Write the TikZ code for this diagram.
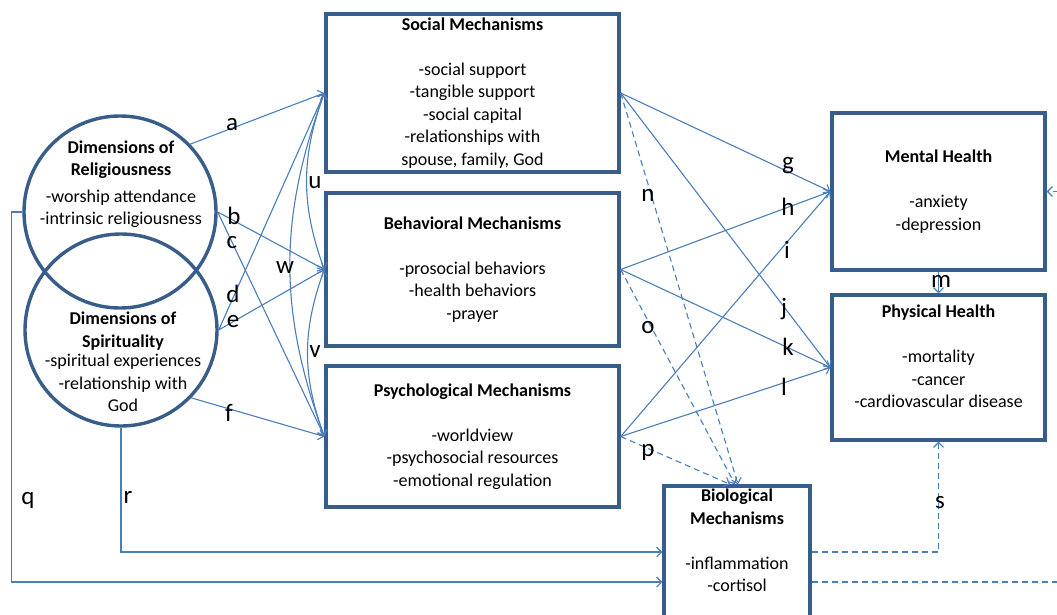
\documentclass[tikz,border=0pt]{standalone}
\usepackage{fontspec}
\setmainfont{Carlito}
\usetikzlibrary{arrows.meta,positioning}

\definecolor{linkblue}{HTML}{4A7EBB}
\definecolor{boxblue}{HTML}{385D8A}

\begin{document}
\begin{tikzpicture}[x=1pt, y=-1pt,
    font=\fontsize{18pt}{22.5pt}\selectfont,
    >={Straight Barb[length=5pt,width=10pt]},
    box/.style={draw=boxblue, line width=3.4pt, align=center, inner sep=0pt},
    ring/.style={draw=boxblue, line width=3.4pt, circle, inner sep=0pt, minimum size=192pt},
    conn/.style={linkblue, line width=1.1pt, ->},
    indirect/.style={conn, dash pattern=on 6pt off 4pt},
    pathlabel/.style={font=\fontsize{25pt}{30pt}\selectfont, inner sep=0pt}]
    \useasboundingbox (0,0) rectangle (1057,615);

    \node[ring] (rel) at (120,212) {};
    \node[ring] (spi) at (121,330) {};
    \node[align=center, inner sep=0pt] (reltext) at (121,184)
      {\textbf{Dimensions of}\\\textbf{Religiousness}\\[4pt]-worship attendance\\-intrinsic religiousness};
    \node[align=center, inner sep=0pt] (spitext) at (123,362)
      {\textbf{Dimensions of}\\\textbf{Spirituality}\\[-3pt]-spiritual experiences\\-relationship with\\God};

    \node[box, minimum width=293pt, minimum height=158pt] (soc) at (472.5,93)
      {\textbf{Social Mechanisms}\\[22.5pt]-social support\\-tangible support\\-social capital\\-relationships with\\spouse, family, God};
    \node[box, minimum width=293pt, minimum height=153pt] (beh) at (472.5,269.5)
      {\textbf{Behavioral Mechanisms}\\[22.5pt]-prosocial behaviors\\-health behaviors\\-prayer};
    \node[box, minimum width=293pt, minimum height=141pt] (psy) at (472.5,436.5)
      {\textbf{Psychological Mechanisms}\\[22.5pt]-worldview\\-psychosocial resources\\-emotional regulation};
    \node[box, minimum width=213pt, minimum height=157pt] (ment) at (938.5,191.5)
      {\textbf{Mental Health}\\[22.5pt]-anxiety\\-depression};
    \node[box, minimum width=213pt, minimum height=145pt] (phys) at (938.5,367.5)
      {\textbf{Physical Health}\\[22.5pt]-mortality\\-cancer\\-cardiovascular disease\\\mbox{}};
    \node[box, minimum width=146pt, minimum height=162pt] (bio) at (737,567) {};
    \node[align=center, inner sep=0pt, below=4.5pt of bio.north] (biotext)
      {\textbf{Biological}\\\textbf{Mechanisms}\\[22.5pt]-inflammation\\-cortisol};
    \coordinate (tturn) at (1080,400);

    \draw[conn] (rel.44) -- (soc.west);
    \draw[conn] (rel.east) -- (beh.west);
    \draw[conn] (rel.east) -- (psy.west);
    \draw[conn] (spi.east) -- (soc.west);
    \draw[conn] (spi.east) -- (beh.west);
    \draw[conn] (spi.-44) -- (psy.west);
    \draw[conn, <->] (soc.west) to[bend right=20] (beh.west);
    \draw[conn, <->] (beh.west) to[bend right=20] (psy.west);
    \draw[conn, <->] (soc.west) to[bend right=20] (psy.west);

    \draw[conn] (soc.east) -- (ment.west);
    \draw[conn] (beh.east) -- (ment.west);
    \draw[conn] (psy.east) -- (ment.west);
    \draw[conn] (soc.east) -- (phys.west);
    \draw[conn] (beh.east) -- (phys.west);
    \draw[conn] (psy.east) -- (phys.west);
    \draw[conn] (ment.south) -- (phys.north);
    \draw[indirect] (soc.east) -- ([xshift=1pt]bio.north);
    \draw[indirect] (beh.east) -- ([xshift=-2pt]bio.north);
    \draw[indirect] (psy.east) -- ([xshift=-7pt]bio.north);

    \draw[conn] (rel.west) -- ++(-11,0) |- ([yshift=-15pt]bio.west);
    \draw[conn] (spi.south) |- ([yshift=15pt]bio.west);
    \draw[indirect] ([yshift=15pt]bio.east) -| (phys.south);
    \draw[indirect] ([yshift=-15pt]bio.east) -| (tturn) |- (ment.east);

    \node[pathlabel] (la) at (232,125) {a};
    \node[pathlabel] (lb) at (234,216) {b};
    \node[pathlabel] (lc) at (232,243) {c};
    \node[pathlabel] (ld) at (233,294) {d};
    \node[pathlabel] (le) at (233,322) {e};
    \node[pathlabel] (lf) at (229,413) {f};
    \node[pathlabel] (lg) at (788,166) {g};
    \node[pathlabel] (lh) at (788,207) {h};
    \node[pathlabel] (li) at (787,250) {i};
    \node[pathlabel] (lj) at (784,309) {j};
    \node[pathlabel] (lk) at (788,347) {k};
    \node[pathlabel] (ll) at (784,387) {l};
    \node[pathlabel] (lm) at (941,281) {m};
    \node[pathlabel] (ln) at (648,195) {n};
    \node[pathlabel] (lo) at (648,328) {o};
    \node[pathlabel] (lp) at (648,452) {p};
    \node[pathlabel] (lq) at (28,500) {q};
    \node[pathlabel] (lr) at (128,497) {r};
    \node[pathlabel] (ls) at (940,503) {s};
    \node[pathlabel] (lt) at (1063,497) {t};
    \node[pathlabel] (lu) at (315,183) {u};
    \node[pathlabel] (lv) at (315,352) {v};
    \node[pathlabel] (lw) at (285,268) {w};
\end{tikzpicture}
\end{document}
